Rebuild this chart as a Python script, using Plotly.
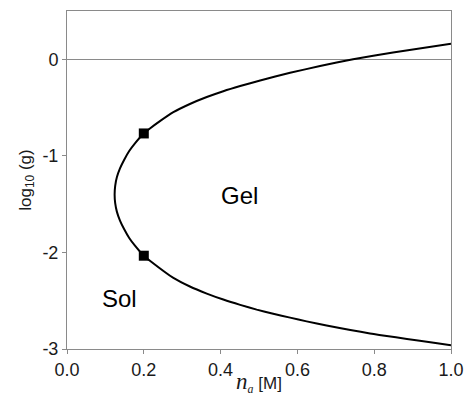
import plotly.graph_objects as go

# Boundary curve between Sol and Gel, traced from top-right to bottom-right
curve_x = [1.0, 0.849, 0.745, 0.659, 0.581, 0.503, 0.451, 0.407, 0.364, 0.32, 0.277, 0.242, 0.216, 0.2,
           0.177, 0.162, 0.149, 0.138, 0.130, 0.1255, 0.124, 0.1255, 0.130, 0.138, 0.149, 0.162, 0.177, 0.2,
           0.216, 0.277, 0.32, 0.364, 0.407, 0.451, 0.494, 0.537, 0.581, 0.624, 0.676, 0.789, 1.0]
curve_y = [0.16, 0.07, 0.0, -0.07, -0.14, -0.219, -0.277, -0.331, -0.391, -0.463, -0.548, -0.641, -0.717, -0.768,
           -0.87, -0.95, -1.04, -1.13, -1.22, -1.31, -1.40, -1.49, -1.58, -1.67, -1.76, -1.85, -1.93, -2.034,
           -2.086, -2.264, -2.353, -2.426, -2.488, -2.543, -2.592, -2.635, -2.675, -2.714, -2.757, -2.839, -2.96]

# Marked points
marker_x = [0.2, 0.2]
marker_y = [-0.768, -2.034]

# Region labels
label_text = ["Gel", "Sol"]
label_x = [0.45, 0.136]
label_y = [-1.41, -2.475]

# Axis ticks
x_ticks = [0.0, 0.2, 0.4, 0.6, 0.8, 1.0]
x_ticklabels = ["0.0", "0.2", "0.4", "0.6", "0.8", "1.0"]
y_ticks = [0, -1, -2, -3]
y_ticklabels = ["0", "-1", "-2", "-3"]

FONT = "Liberation Sans, Arial, sans-serif"
AXIS_COLOR = "#8a8a8a"
TEXT_COLOR = "#1a1a1a"

fig = go.Figure()
fig.add_trace(go.Scatter(
    x=curve_x, y=curve_y, mode="lines",
    line=dict(color="black", width=2, shape="spline", smoothing=0.5),
    showlegend=False, hoverinfo="skip"))
fig.add_trace(go.Scatter(
    x=marker_x, y=marker_y, mode="markers",
    marker=dict(symbol="square", size=10, color="black"),
    showlegend=False))

for t, xx, yy in zip(label_text, label_x, label_y):
    fig.add_annotation(x=xx, y=yy, text=t, showarrow=False,
                       font=dict(family=FONT, size=24, color="black"))

fig.update_layout(
    width=466, height=396,
    margin=dict(l=67, r=15, t=11, b=47),
    paper_bgcolor="white", plot_bgcolor="white",
    font=dict(family=FONT, color=TEXT_COLOR),
    showlegend=False,
)
fig.update_xaxes(
    range=[0, 1], tickvals=x_ticks, ticktext=x_ticklabels,
    showgrid=False, zeroline=False, automargin=False,
    showline=True, linecolor=AXIS_COLOR, linewidth=1, mirror=True,
    ticks="outside", ticklen=4, tickcolor=AXIS_COLOR,
    tickfont=dict(family=FONT, size=18, color=TEXT_COLOR),
    title=dict(text="<span style=\"font-family:Liberation Serif;font-size:23px\"><i>n</i></span>"
                    "<sub><span style=\"font-family:Liberation Serif\"><i>a</i></span></sub> [M]",
               font=dict(family=FONT, size=17, color=TEXT_COLOR), standoff=0),
)
fig.update_yaxes(
    range=[-3, 0.5], tickvals=y_ticks, ticktext=y_ticklabels,
    showgrid=False, zeroline=True, zerolinecolor=AXIS_COLOR, zerolinewidth=1,
    automargin=False,
    showline=True, linecolor=AXIS_COLOR, linewidth=1, mirror=True,
    ticks="outside", ticklen=4, tickcolor=AXIS_COLOR,
    tickfont=dict(family=FONT, size=18, color=TEXT_COLOR),
    title=dict(text="log<sub>10</sub> (g)", font=dict(family=FONT, size=17, color=TEXT_COLOR), standoff=6),
)

fig.write_html("out.html")
